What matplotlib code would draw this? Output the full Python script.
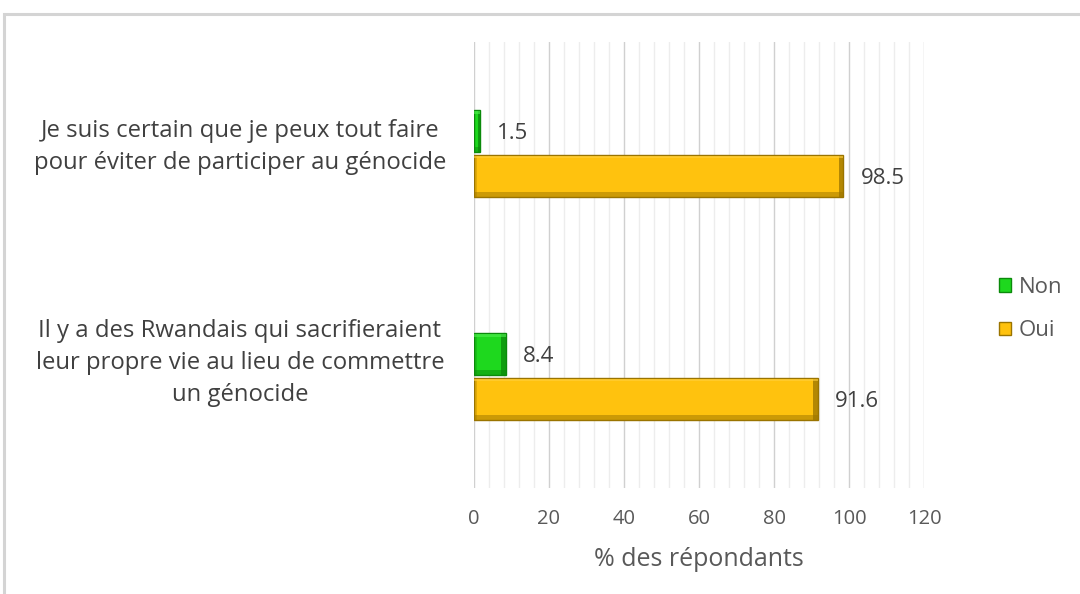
import matplotlib
matplotlib.use("Agg")
import matplotlib.pyplot as plt
from matplotlib.patches import Rectangle, Patch
from matplotlib.ticker import MultipleLocator
import numpy as np

plt.rcParams['font.family'] = ['Open Sans', 'DejaVu Sans']

categories = [
    "Je suis certain que je peux tout faire\npour éviter de participer au génocide",
    "Il y a des Rwandais qui sacrifieraient\nleur propre vie au lieu de commettre\nun génocide",
]
non_values = [1.5, 8.4]
oui_values = [98.5, 91.6]
series_names = ["Non", "Oui"]
x_ticks = [0, 20, 40, 60, 80, 100, 120]
x_label = "% des répondants"

text_gray = "#595959"
label_dark = "#404040"
green_face, green_dark, green_light = "#1ED81E", "#0B8A0B", "#50EE50"
gold_face, gold_dark, gold_light = "#FFC20E", "#9A7400", "#FFD040"

fig = plt.figure(figsize=(10.8, 5.94), dpi=100)
fig.patch.set_facecolor("white")

# outer chart-area frame
fig.add_artist(Rectangle((4 / 1080, -0.05), 1.1, 1 - 14 / 594 + 0.05,
                         transform=fig.transFigure, fill=False,
                         edgecolor="#D4D4D4", linewidth=2.2))

ax = fig.add_axes([474 / 1080, 1 - 488 / 594, 450 / 1080, 446 / 594])

y = np.arange(len(categories))
h = 0.19
gap = 0.005


def bevel_bars(values, offsets, face, dark, light):
    bars = ax.barh(offsets, values, height=h, color=face, edgecolor=dark,
                   linewidth=1.0, zorder=3)
    for b in bars:
        x0, y0, w, hh = b.get_x(), b.get_y(), b.get_width(), b.get_height()
        s = min(1.2, w * 0.25)
        t = hh * 0.12
        # bottom shade
        ax.add_patch(Rectangle((x0, y0 + hh - t), w, t, facecolor=dark,
                               alpha=0.5, linewidth=0, zorder=4))
        # right-end shade
        ax.add_patch(Rectangle((x0 + w - s, y0), s, hh, facecolor=dark,
                               alpha=0.75, linewidth=0, zorder=4))
        # left-end shade
        ax.add_patch(Rectangle((x0, y0), min(0.8, w * 0.2), hh,
                               facecolor=dark, alpha=0.3, linewidth=0,
                               zorder=4))
        # top highlight
        ax.add_patch(Rectangle((x0, y0 + hh * 0.03), w, t * 0.5,
                               facecolor=light, alpha=0.6, linewidth=0,
                               zorder=4))
    return bars


non_pos = y - h / 2 - gap
oui_pos = y + h / 2 + gap
bevel_bars(non_values, non_pos, green_face, green_dark, green_light)
bevel_bars(oui_values, oui_pos, gold_face, gold_dark, gold_light)

for v, p in zip(non_values, non_pos):
    ax.text(v + 4.6, p + 0.01, f"{v}", va="center", ha="left", fontsize=16,
            color=label_dark)
for v, p in zip(oui_values, oui_pos):
    ax.text(v + 4.6, p + 0.01, f"{v}", va="center", ha="left", fontsize=16,
            color=label_dark)

ax.set_xlim(0, 120)
ax.set_ylim(len(categories) - 0.5, -0.5)
ax.set_xticks(x_ticks)
ax.xaxis.set_minor_locator(MultipleLocator(4))
ax.grid(axis="x", which="major", color="#D0D0D0", linewidth=1.0, zorder=0)
ax.grid(axis="x", which="minor", color="#EDEDED", linewidth=1.0, zorder=0)
ax.set_axisbelow(True)
for s in ax.spines.values():
    s.set_visible(False)
ax.tick_params(axis="both", which="both", length=0)
ax.tick_params(axis="x", labelsize=14.5, labelcolor=text_gray, pad=15)
ax.set_yticks(y)
ax.set_yticklabels([])
ax.set_xlabel(x_label, fontsize=18, color=text_gray, labelpad=13)

label_x = (240 - 474) / 450 * 120
label_dy = [-0.03, -0.06]
for yi, lab, dy in zip(y, categories, label_dy):
    ax.text(label_x, yi + dy, lab, ha="center", va="center", fontsize=17.2,
            color=label_dark, linespacing=1.45, clip_on=False)

handles = [
    Patch(facecolor=green_face, edgecolor=green_dark, label=series_names[0]),
    Patch(facecolor=gold_face, edgecolor=gold_dark, label=series_names[1]),
]
leg = fig.legend(handles=handles, loc="center left",
                 bbox_to_anchor=(983 / 1080, 1 - 309 / 594), frameon=False,
                 fontsize=16, handlelength=0.55, handleheight=0.55,
                 handletextpad=0.35, labelspacing=1.0, borderpad=0.2)
for t in leg.get_texts():
    t.set_color(text_gray)

fig.savefig("out.png", dpi=100, facecolor="white")
